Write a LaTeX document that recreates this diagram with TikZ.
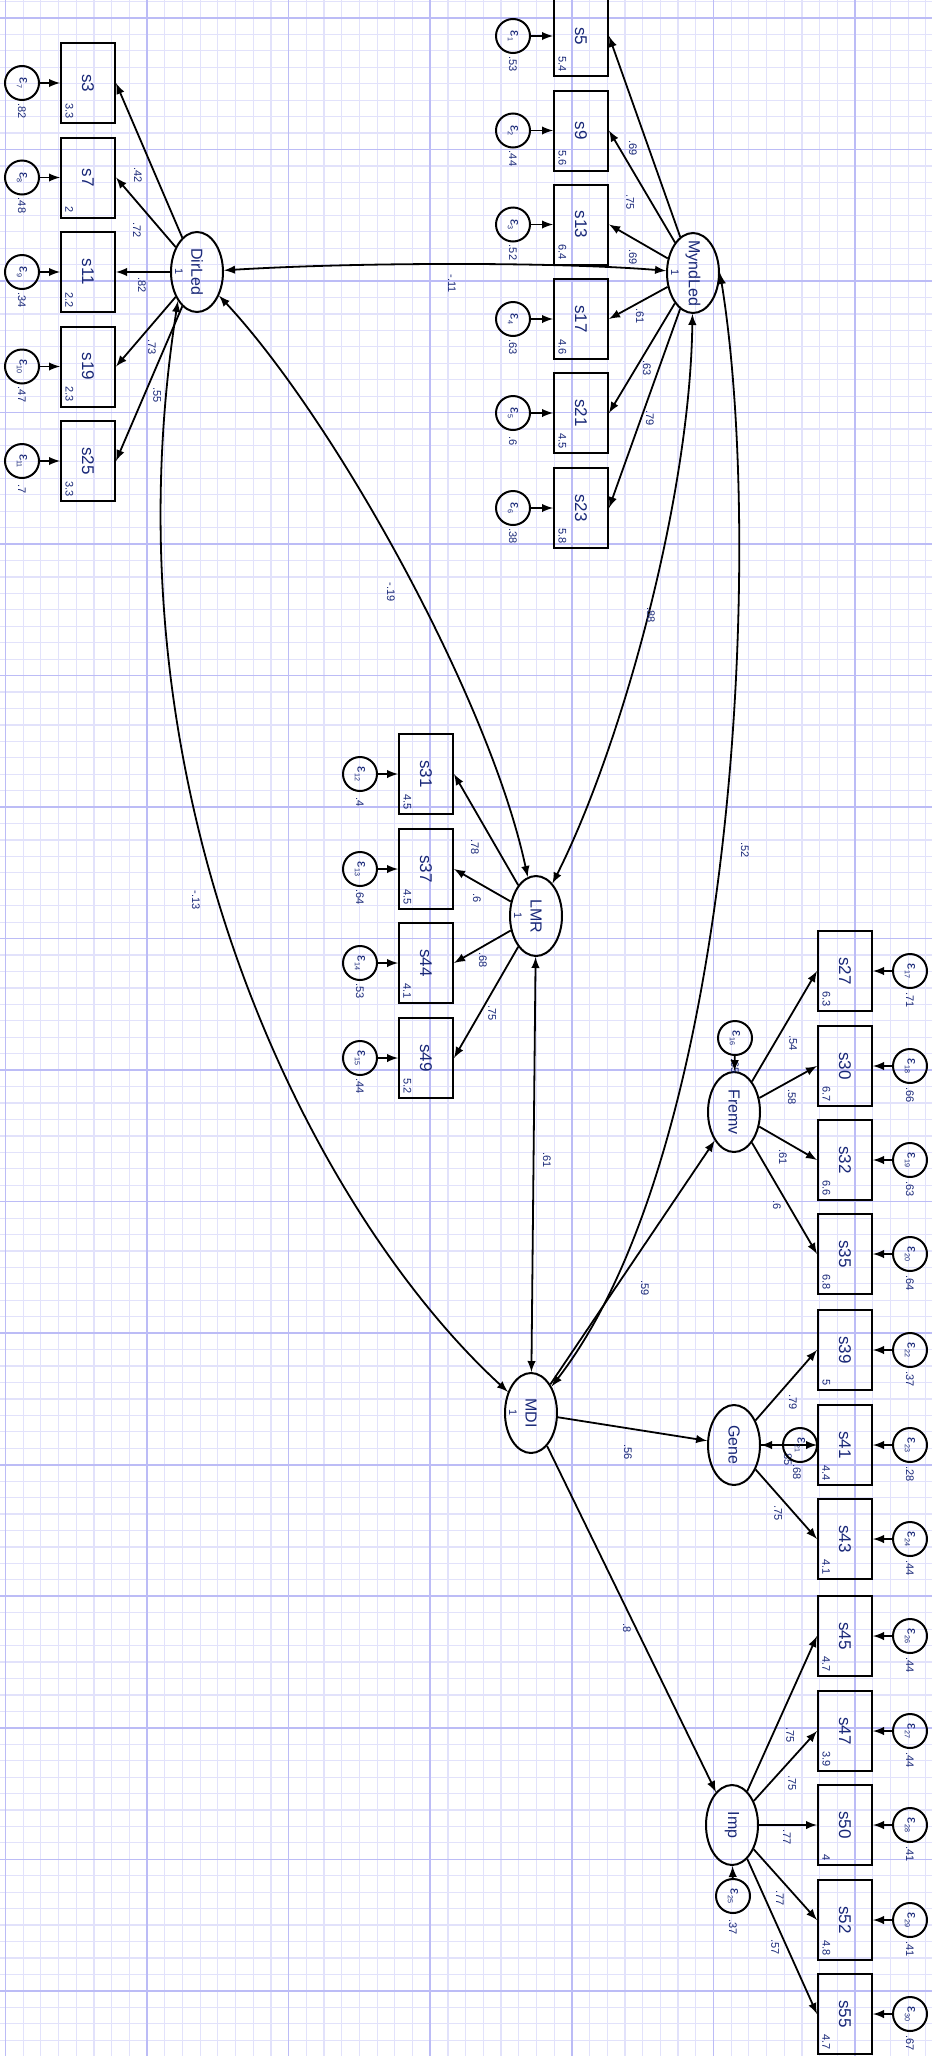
\documentclass[tikz,border=0pt]{standalone}
\usepackage{fontspec}
\setmainfont{Liberation Sans}
\usepackage{xcolor}
\usetikzlibrary{arrows}
\usetikzlibrary{calc, math}
\usetikzlibrary{shapes.geometric}
\definecolor{gridminor}{RGB}{226,226,251}
\definecolor{gridmajor}{RGB}{188,188,246}
\definecolor{semtext}{RGB}{25,40,120}

\newcommand{\errlab}[1]{{\fontsize{7}{7}\selectfont ε\raisebox{-1.3pt}{\fontsize{3.6}{3.6}\selectfont #1}}}

\tikzset{
  latent/.style={draw, ellipse, line width=1pt, rotate=-90, minimum width=40pt, minimum height=26pt, inner sep=0pt},
  lvname/.style={rotate=-90, inner sep=0pt, text=semtext, font=\fontsize{8}{8}\selectfont},
  obs/.style={draw, rectangle, line width=1pt, rotate=-90, minimum width=40pt, minimum height=27pt, inner sep=0pt, text=semtext, font=\fontsize{8.5}{8.5}\selectfont},
  err/.style={draw, circle, line width=1pt, rotate=-90, minimum size=17pt, inner sep=0pt, text=semtext},
  num/.style={rotate=-90, inner sep=0pt, text=semtext, font=\fontsize{5.5}{5.5}\selectfont},
  onehead/.style={line width=0.9pt, -latex},
  twohead/.style={line width=0.9pt, latex-latex},
}

\begin{document}
\begin{tikzpicture}[x=0.5pt,y=-0.5pt]
\tikzmath{
\gx=17.7; \gy=16.44;% grid steps in px
}
\useasboundingbox (0,0) rectangle (932,2056);
\fill[white] (0,0) rectangle (932,2056);
%grid
\foreach \i in {0,...,52}
  \draw[gridminor, line width=0.6pt] ({5.4+\gx*\i},0) -- ({5.4+\gx*\i},2056);
\foreach \j in {-1,...,123}
  \draw[gridminor, line width=0.6pt] (0,{18+\gy*\j}) -- (932,{18+\gy*\j});
\foreach \i in {0,...,6}
  \draw[gridmajor, line width=0.8pt] ({5.4+8*\gx*\i},0) -- ({5.4+8*\gx*\i},2056);
\foreach \j in {0,...,15}
  \draw[gridmajor, line width=0.8pt] (0,{18+8*\gy*\j}) -- (932,{18+8*\gy*\j});

%latent variables
\foreach \lv/\lx/\ly in {DirLed/197/272, MyndLed/693/273, LMR/536/916, MDI/531/1413, Fremv/734/1112, Gene/734/1445, Imp/732/1825}{
  \node[latent] (\lv) at (\lx,\ly) {};
  \node[lvname] (t\lv) at (\lv) {\lv};
}
\foreach \lv in {DirLed, MyndLed, LMR, MDI}
  \node[num] (one\lv) at ($(\lv)+(-18,0)$) {1};

%DirLed items
\foreach \nm/\yy/\en/\vv/\mm/\ldg/\lbx/\lby in {s3/83/7/.82/3.3/.42/138/175, s7/177.5/8/.48/2/.72/137/230, s11/272/9/.34/2.2/.82/142/285, s19/366.5/10/.47/2.3/.73/152/347, s25/461/11/.7/3.3/.55/157/395}{
  \node[obs] (\nm) at (88,\yy) {\nm};
  \node[err] (e\en) at (22,\yy) {\errlab{\en}};
  \node[num, anchor=south east, inner sep=2.5pt] (m\nm) at (\nm.south east) {\mm};
  \node[num] (v\en) at ($(e\en)+(0,28)$) {\vv};
  \node[num] (l\nm) at (\lbx,\lby) {\ldg};
  \draw[onehead] (e\en) -- (\nm.south);
  \draw[onehead] (DirLed) -- (\nm.north);
}

%MyndLed items
\foreach \nm/\yy/\en/\vv/\mm/\ldg/\lbx/\lby in {s5/36/1/.53/5.4/.69/633/148, s9/130.5/2/.44/5.6/.75/630/202, s13/224.5/3/.52/6.4/.69/633/257, s17/319/4/.63/4.6/.61/640/316, s21/413/5/.6/4.5/.63/647/368, s23/508/6/.38/5.8/.79/650/418}{
  \node[obs] (\nm) at (581,\yy) {\nm};
  \node[err] (e\en) at (513,\yy) {\errlab{\en}};
  \node[num, anchor=south east, inner sep=2.5pt] (m\nm) at (\nm.south east) {\mm};
  \node[num] (v\en) at ($(e\en)+(0,28)$) {\vv};
  \node[num] (l\nm) at (\lbx,\lby) {\ldg};
  \draw[onehead] (e\en) -- (\nm.south);
  \draw[onehead] (MyndLed) -- (\nm.north);
}

%LMR items
\foreach \nm/\yy/\en/\vv/\mm/\ldg/\lbx/\lby in {s31/774/12/.4/4.5/.78/475/847, s37/869/13/.64/4.5/.6/477/898, s44/963/14/.53/4.1/.68/483/960, s49/1058/15/.44/5.2/.75/492/1013}{
  \node[obs] (\nm) at (426,\yy) {\nm};
  \node[err] (e\en) at (360,\yy) {\errlab{\en}};
  \node[num, anchor=south east, inner sep=2.5pt] (m\nm) at (\nm.south east) {\mm};
  \node[num] (v\en) at ($(e\en)+(0,28)$) {\vv};
  \node[num] (l\nm) at (\lbx,\lby) {\ldg};
  \draw[onehead] (e\en) -- (\nm.south);
  \draw[onehead] (LMR) -- (\nm.north);
}

%Fremv, Gene and Imp items
\foreach \lv/\nm/\yy/\en/\vv/\mm/\ldg/\lbx/\lby in {Fremv/s27/971/17/.71/6.3/.54/793/1043, Fremv/s30/1066/18/.66/6.7/.58/792/1097, Fremv/s32/1160/19/.63/6.6/.61/783/1157, Fremv/s35/1254/20/.64/6.8/.6/777/1205,
  Gene/s39/1350/22/.37/5/.79/793/1402, Gene/s41/1445/23/.28/4.4/.85/788/1458, Gene/s43/1539/24/.44/4.1/.75/778/1513,
  Imp/s45/1636/26/.44/4.7/.75/790/1735, Imp/s47/1731/27/.44/3.9/.75/792/1783, Imp/s50/1825/28/.41/4/.77/787/1837, Imp/s52/1920/29/.41/4.8/.77/780/1898, Imp/s55/2014/30/.67/4.7/.57/775/1947}{
  \node[obs] (\nm) at (845,\yy) {\nm};
  \node[err] (e\en) at (910,\yy) {\errlab{\en}};
  \node[num, anchor=south east, inner sep=2.5pt] (m\nm) at (\nm.south east) {\mm};
  \node[num] (v\en) at ($(e\en)+(0,29)$) {\vv};
  \node[num] (l\nm) at (\lbx,\lby) {\ldg};
  \draw[onehead] (e\en) -- (\nm.north);
  \draw[onehead] (\lv) -- (\nm.south);
}

%residuals of the second order factors
\node[err] (e16) at (735,1038) {\errlab{16}};
\node[num] (v16) at ($(e16)+(0,28)$) {.65};
\draw[onehead] (e16) -- (Fremv);
\node[err] (e21) at (800,1445) {\errlab{21}};
\node[num] (v21) at (797,1472) {.68};
\draw[onehead] (e21) -- (Gene);
\node[err] (e25) at (733,1896) {\errlab{25}};
\node[num] (v25) at ($(e25)+(0,31)$) {.37};
\draw[onehead] (e25) -- (Imp);

%MDI paths
\draw[onehead] (MDI) -- (Fremv);
\draw[onehead] (MDI) -- (Gene);
\draw[onehead] (MDI) -- (Imp);
\node[num] (pFremv) at (645,1288) {.59};
\node[num] (pGene) at (628,1452) {.56};
\node[num] (pImp) at (627,1628) {.8};

%covariances
\draw[twohead] (MyndLed) .. controls (560,262) and (360,262) .. (DirLed);
\draw[twohead] (DirLed) .. controls (335,420) and (490,700) .. (LMR);
\draw[twohead] (MyndLed) .. controls (690,500) and (620,750) .. (LMR);
\draw[twohead] (DirLed.south east) .. controls (100,800) and (315,1215) .. (MDI);
\draw[twohead] (MyndLed.north) .. controls (765,550) and (735,1150) .. (MDI);
\draw[twohead] (LMR) -- (MDI);
\node[num] (cMyndDir) at (452,284) {-.11};
\node[num] (cDirLMR) at (391,592) {-.19};
\node[num] (cDirMDI) at (196,900) {-.13};
\node[num] (cMyndLMR) at (651,615) {.88};
\node[num] (cMyndMDI) at (745,850) {.52};
\node[num] (cLMRMDI) at (547,1160) {.61};
\end{tikzpicture}
\end{document}
